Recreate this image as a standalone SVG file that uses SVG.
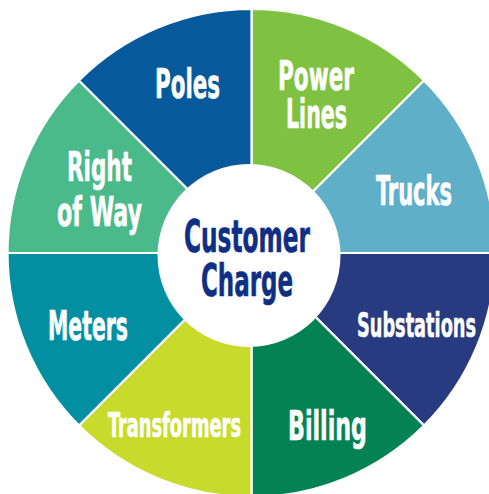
<svg xmlns="http://www.w3.org/2000/svg" width="489" height="494" viewBox="0 0 489 494">
<style>
.w{stroke:#fff;stroke-width:2.2}
.t{font-family:"DejaVu Sans Condensed","DejaVu Sans",sans-serif;font-weight:bold;fill:#fff;stroke:#fff;stroke-width:0.6}
.c{font-family:"DejaVu Sans Condensed","DejaVu Sans",sans-serif;font-weight:bold;fill:#0f2f84;stroke:#0f2f84;stroke-width:0.6}
</style>
<rect width="489" height="494" fill="#fff"/>
<g id="connectors"></g>
<g id="power-lines"><path class="w" fill="#7fc241" d="M251.5 253L251.5 9A244 244 0 0 1 424 80.5Z"/><text class="t" font-size="40" x="278" y="90" textLength="76" lengthAdjust="spacingAndGlyphs">Power</text><text class="t" font-size="40" x="286" y="128" textLength="61" lengthAdjust="spacingAndGlyphs">Lines</text></g>
<g id="trucks"><path class="w" fill="#5fafc8" d="M251.5 253L424 80.5A244 244 0 0 1 495.5 253Z"/><text class="t" font-size="40" x="376" y="205" textLength="76" lengthAdjust="spacingAndGlyphs">Trucks</text></g>
<g id="substations"><path class="w" fill="#283a80" d="M251.5 253L495.5 253A244 244 0 0 1 424 425.5Z"/><text class="t" font-size="34" x="357" y="337" textLength="119" lengthAdjust="spacingAndGlyphs">Substations</text></g>
<g id="billing"><path class="w" fill="#038256" d="M251.5 253L424 425.5A244 244 0 0 1 251.5 497Z"/><text class="t" font-size="40" x="288" y="440" textLength="79" lengthAdjust="spacingAndGlyphs">Billing</text></g>
<g id="transformers"><path class="w" fill="#c8da2c" d="M251.5 253L251.5 497A244 244 0 0 1 79 425.5Z"/><text class="t" font-size="33" x="108" y="437" textLength="133" lengthAdjust="spacingAndGlyphs">Transformers</text></g>
<g id="meters"><path class="w" fill="#038fa2" d="M251.5 253L79 425.5A244 244 0 0 1 7.5 253Z"/><text class="t" font-size="40" x="48" y="340" textLength="80" lengthAdjust="spacingAndGlyphs">Meters</text></g>
<g id="right-of-way"><path class="w" fill="#4bba8b" d="M251.5 253L7.5 253A244 244 0 0 1 79 80.5Z"/><text class="t" font-size="40" x="67" y="181" textLength="65" lengthAdjust="spacingAndGlyphs">Right</text><text class="t" font-size="40" x="57" y="226" textLength="85" lengthAdjust="spacingAndGlyphs">of Way</text></g>
<g id="poles"><path class="w" fill="#065a9c" d="M251.5 253L79 80.5A244 244 0 0 1 251.5 9Z"/><text class="t" font-size="40" x="155" y="98" textLength="65" lengthAdjust="spacingAndGlyphs">Poles</text></g>
<g id="customer-charge"><circle cx="249" cy="255.5" r="91.5" fill="#fff"/><text class="c" font-size="45" x="184" y="252" textLength="126" lengthAdjust="spacingAndGlyphs">Customer</text><text class="c" font-size="45" x="201" y="296" textLength="92" lengthAdjust="spacingAndGlyphs">Charge</text></g>
</svg>
